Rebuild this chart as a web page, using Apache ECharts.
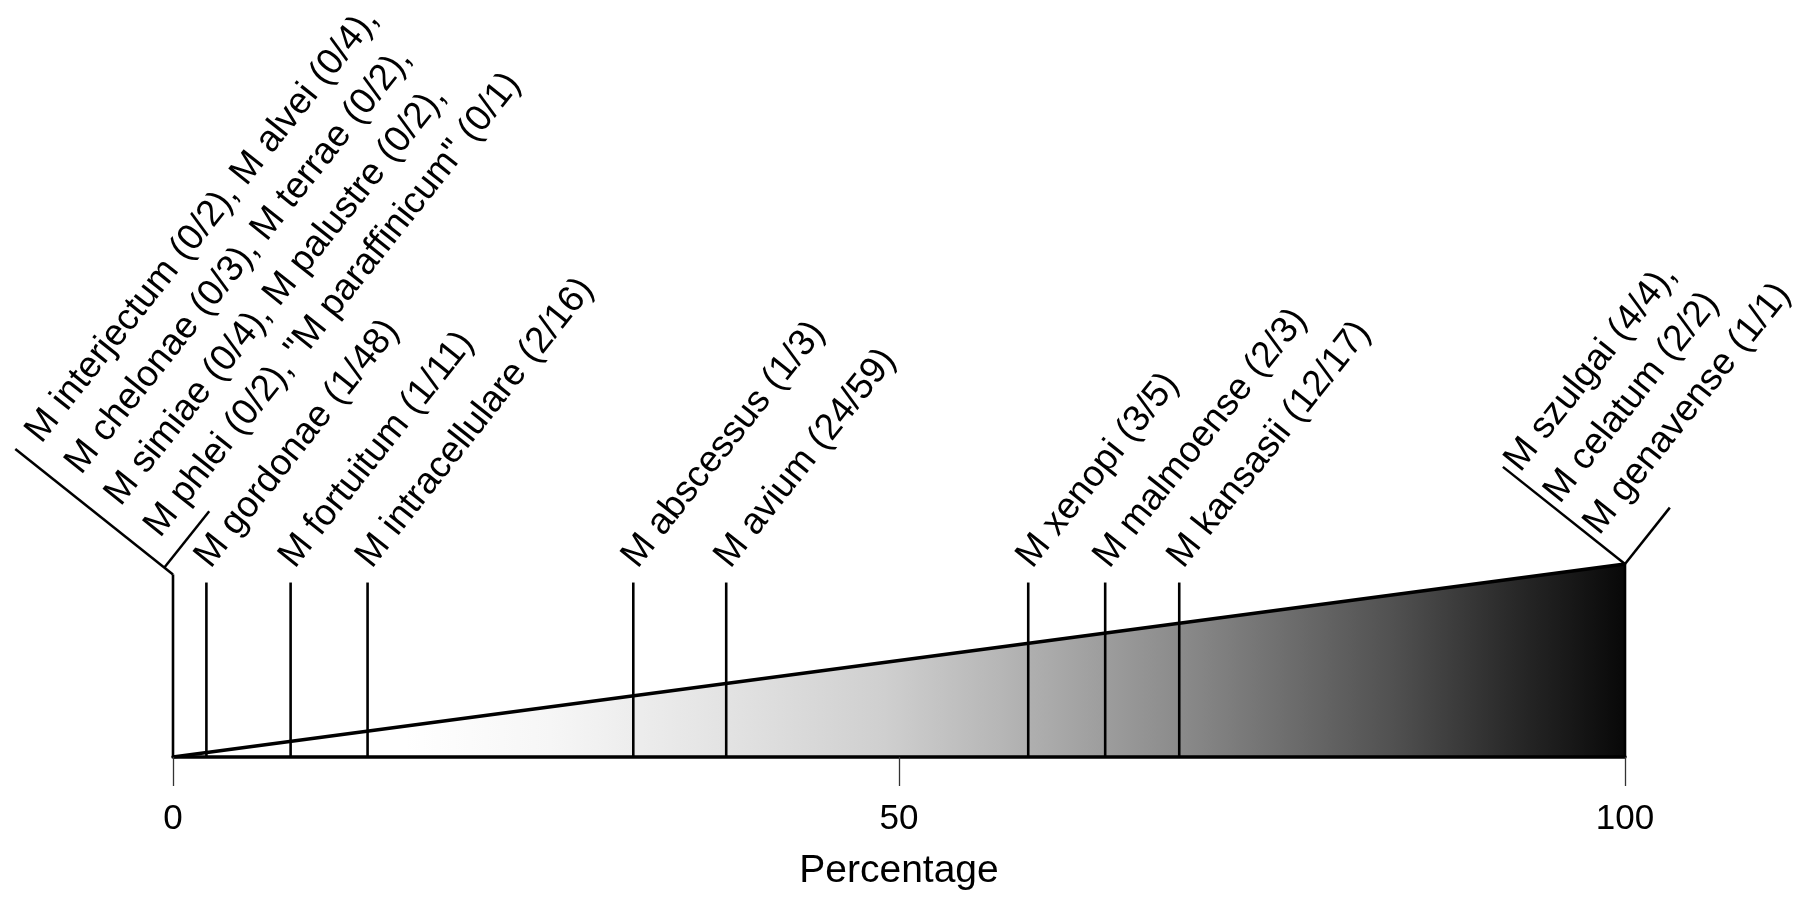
<!DOCTYPE html>
<html>
<head>
<meta charset="utf-8">
<script src="https://cdn.jsdelivr.net/npm/echarts@6/dist/echarts.min.js"></script>
<style>
  html, body { margin: 0; padding: 0; background: #fff; }
  #main { width: 1800px; height: 902px; }
</style>
</head>
<body>
<div id="main"></div>
<script type="text/javascript">
    // positions of the species marks along the percentage axis
    var markPct = [0, 2.3, 8.1, 13.4, 31.7, 38.1, 58.9, 64.2, 69.3, 100];
    // label lines for each mark (groups have several lines, top line first)
    var markLabels = [
        ['M interjectum (0/2), M alvei (0/4),',
         'M chelonae (0/3), M terrae (0/2),',
         'M simiae (0/4), M palustre (0/2),',
         'M phlei (0/2), "M paraffinicum" (0/1)'],
        ['M gordonae (1/48)'],
        ['M fortuitum (1/11)'],
        ['M intracellulare (2/16)'],
        ['M abscessus (1/3)'],
        ['M avium (24/59)'],
        ['M xenopi (3/5)'],
        ['M malmoense (2/3)'],
        ['M kansasii (12/17)'],
        ['M szulgai (4/4),',
         'M celatum (2/2)',
         'M genavense (1/1)']
    ];
    // the shaded wedge
    var wedgeX = [0, 100];
    var wedgeY = [0, 100];
    var axisTitle = 'Percentage';

    var FONT = '"Liberation Sans", Arial, Helvetica, sans-serif';
    var ANG = 51.5 * Math.PI / 180;
    var LINE_GAP = 50.5;

    function wedgeTopAt(x) {
        return wedgeY[0] + (wedgeY[1] - wedgeY[0]) * (x - wedgeX[0]) / (wedgeX[1] - wedgeX[0]);
    }

    var myChart = echarts.init(document.getElementById('main'), null, {renderer: 'canvas'});

    function renderMark(params, api) {
        var i = params.dataIndex;
        var x = api.value(0);
        var lines = markLabels[i];
        var isGroup = lines.length > 1;
        var topVal = isGroup ? Math.max(94.6, wedgeTopAt(x)) : 90.4;
        var base = api.coord([x, 0]);
        var top = api.coord([x, topVal]);

        var inner = [];
        if (isGroup) {
            var m = lines.length;
            // left bracket text sits a bit further out than the right one
            var shift = x < 50 ? 20 : 6;
            var lift = x < 50 ? 30 : 35;
            for (var k = 0; k < m; k++) {
                var line = lines[m - 1 - k];
                inner.push({
                    type: 'text',
                    x: shift,
                    y: -(lift + LINE_GAP * k) - 12.8,
                    style: {
                        text: line, font: '37px ' + FONT, fill: '#000',
                        align: 'left', verticalAlign: 'middle'
                    }
                });
            }
            var perpLen = lift + LINE_GAP * (m - 1) + 20;
            var joint = x < 50 ? 11 : 0;
            inner.push({
                type: 'line',
                shape: {x1: 0, y1: 0, x2: 0, y2: -perpLen},
                style: {stroke: '#000', lineWidth: 2.5}
            });
            inner.push({
                type: 'line',
                shape: {x1: 0, y1: -joint, x2: 72, y2: -joint},
                style: {stroke: '#000', lineWidth: 2.5}
            });
        } else {
            inner.push({
                type: 'text',
                x: 13,
                y: -2.5 - 12.8,
                style: {
                    text: lines[0], font: '37px ' + FONT, fill: '#000',
                    align: 'left', verticalAlign: 'middle'
                }
            });
        }

        return {
            type: 'group',
            children: [
                {
                    type: 'line',
                    shape: {x1: base[0], y1: base[1], x2: top[0], y2: top[1]},
                    style: {stroke: '#000', lineWidth: 2.6}
                },
                {
                    type: 'group',
                    x: top[0], y: top[1], rotation: ANG,
                    children: inner
                }
            ]
        };
    }

    var option = {
        backgroundColor: '#ffffff',
        animation: false,
        grid: {left: 173, right: 175, top: 564, bottom: 145, containLabel: false},
        xAxis: {
            type: 'value', min: 0, max: 100, interval: 50, z: 5,
            name: axisTitle, nameLocation: 'middle', nameGap: 95,
            nameTextStyle: {color: '#000', fontSize: 39, fontFamily: FONT},
            axisLine: {show: true, lineStyle: {color: '#000', width: 3.5}},
            axisTick: {show: true, length: 29, lineStyle: {color: '#333', width: 1.3}},
            axisLabel: {color: '#000', fontSize: 35, fontFamily: FONT, margin: 45},
            splitLine: {show: false}
        },
        yAxis: {type: 'value', min: 0, max: 100, show: false},
        series: [
            {
                type: 'line',
                data: wedgeX.map(function (v, i) { return [v, wedgeY[i]]; }),
                symbol: 'none',
                lineStyle: {color: '#000', width: 3.5},
                areaStyle: {
                    opacity: 1,
                    color: new echarts.graphic.LinearGradient(0, 0, 1, 0, [
                        {offset: 0, color: '#ffffff'},
                        {offset: 0.16, color: '#ffffff'},
                        {offset: 0.26, color: '#f6f6f6'},
                        {offset: 0.38, color: '#e3e3e3'},
                        {offset: 0.49, color: '#cfcfcf'},
                        {offset: 0.57, color: '#b6b6b6'},
                        {offset: 0.69, color: '#8c8c8c'},
                        {offset: 0.84, color: '#515151'},
                        {offset: 0.92, color: '#2a2a2a'},
                        {offset: 1, color: '#080808'}
                    ])
                },
                z: 2
            },
            {
                type: 'custom',
                renderItem: renderMark,
                clip: false,
                data: markPct.map(function (v, i) { return [v, i]; }),
                z: 3
            }
        ]
    };
    myChart.setOption(option);
</script>
</body>
</html>
